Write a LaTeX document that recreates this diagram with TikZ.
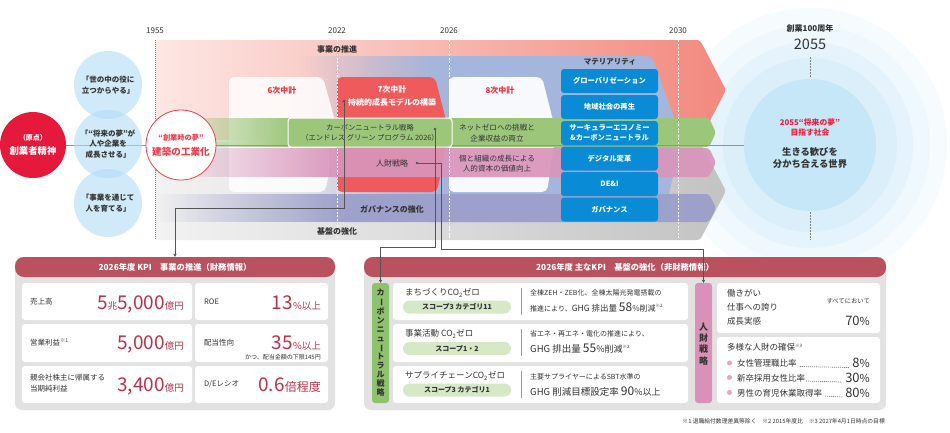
\documentclass[tikz,border=0pt]{standalone}
\usepackage{fontspec}
\setmainfont{Noto Sans CJK JP}
\usetikzlibrary{fadings,arrows.meta}
\definecolor{txt}{HTML}{333333}
\definecolor{redL}{HTML}{FDE7E4}
\definecolor{redM}{HTML}{F59E93}
\definecolor{redR}{HTML}{F2897E}
\definecolor{grayL}{HTML}{F2F2F2}
\definecolor{grayR}{HTML}{C3C3C3}
\definecolor{bluep}{HTML}{A5B6DC}
\definecolor{plan7}{HTML}{EF5A5C}
\definecolor{greenb}{HTML}{9CC77B}
\definecolor{pinkb}{HTML}{D995BB}
\definecolor{purpb}{HTML}{9C9FCB}
\definecolor{matb}{HTML}{0A8BD6}
\definecolor{origred}{HTML}{E5193C}
\definecolor{circb}{HTML}{B1DCF7}
\definecolor{dreamred}{HTML}{E8404F}
\definecolor{planred}{HTML}{E83340}
\definecolor{ring1}{HTML}{DAEFFA}
\definecolor{ring2}{HTML}{E5F4FC}
\definecolor{ring3}{HTML}{EEF8FD}
\definecolor{ring4}{HTML}{F6FBFE}
\definecolor{goalc}{HTML}{C6E7F8}
\definecolor{goalred}{HTML}{E8213F}
\definecolor{conngray}{HTML}{555555}
\definecolor{hdr}{HTML}{B9515E}
\definecolor{panel}{HTML}{E2E2E2}
\definecolor{valred}{HTML}{B5344A}
\definecolor{greenL}{HTML}{8FC26C}
\definecolor{pinkL}{HTML}{D991B8}
\definecolor{pillc}{HTML}{D6E8C6}
\definecolor{divg}{HTML}{999999}
\definecolor{bulletc}{HTML}{E3A5C6}
\definecolor{redline}{HTML}{E36F80}
\newcommand\fsz[2]{\fontsize{#1pt}{#2pt}\selectfont}
\newcommand\vbar{\rotatebox[origin=c]{-90}{ー}}
\newcommand\bgd[1]{{\fsz{19}{20}#1}}
\newcommand\smd[1]{{\fsz{9.5}{10}#1}}
\tikzfading[name=fadein, left color=transparent!100, right color=transparent!0]
\begin{document}
\begin{tikzpicture}[x=1pt,y=-1pt,
  every node/.style={inner sep=0pt, text=txt},
  jt/.style={font=\fsz{8}{10}},
  jtb/.style={font=\bfseries\fsz{8}{10}},
  circtxt/.style={align=center, font=\bfseries\fsz{7.5}{10.4}},
  matbox/.style={fill=matb, rounded corners=3, minimum width=97, minimum height=24, text=white, align=center, font=\bfseries\fsz{7.3}{9.8}},
  connector/.style={draw=conngray, line width=0.6, -{Triangle[length=3pt,width=3.2pt]}},
  cellbox/.style={fill=white, rounded corners=3},
  valnode/.style={text=valred, anchor=base east},
  hdrbox/.style={fill=hdr, rounded corners=9, minimum height=20, text=white, font=\bfseries\fsz{8.3}{10}},
  pillbox/.style={fill=pillc, rounded corners=6.5, minimum width=108, minimum height=13, font=\bfseries\fsz{7}{8}},
  vlab/.style={rounded corners=3, minimum width=17, minimum height=120},
  leader/.style={draw=txt, line width=.7, dash pattern=on .7pt off 1.3pt},
  timeline/.style={draw=white, line width=.7, dash pattern=on 2pt off 1.5pt}
]
\useasboundingbox (0,0) rectangle (950,432);
\fill[white] (0,0) rectangle (950,432);

% ---- goal rings
\fill[ring4] (810,145) circle (137);
\fill[ring3] (810,145) circle (120);
\fill[ring2] (810,145) circle (103);
\fill[ring1] (810,145) circle (87);
\node[circle, fill=goalc, minimum size=132] (goal) at (810,145) {};

% ---- big bands
\shade[left color=redL, middle color=redM, right color=redR, rounded corners=3]
  (155,40) -- (700,40) -- (726,90) -- (700,140) -- (155,140) -- cycle;
\shade[left color=grayL, right color=grayR, rounded corners=3]
  (155,142) -- (700,142) -- (726,191) -- (700,240) -- (155,240) -- cycle;

% ---- blue region
\fill[bluep, path fading=fadein] (300,56) rectangle (431,222);
\fill[bluep] (430,56) [rounded corners=5] -- (652,56) -- (682,140) -- (662,222) [sharp corners] -- (430,222) -- cycle;

% ---- plan boxes
\fill[white, opacity=.85, rounded corners=5] (229,77) -- (323,77) -- (338,132) -- (325,192) -- (229,192) -- cycle;
\fill[plan7, rounded corners=5] (337,77) -- (435,77) -- (449,132) -- (437,192) -- (337,192) -- cycle;
\fill[white, opacity=.92, rounded corners=5] (449,77) -- (542,77) -- (556,132) -- (547,192) -- (449,192) -- cycle;

% ---- strategy bands
\fill[greenb, path fading=fadein] (155,118) rectangle (292,147);
\fill[greenb] (291,118) [rounded corners=3] -- (709,118) -- (716,132.5) -- (709,147) [sharp corners] -- (291,147) -- cycle;
\fill[pinkb, opacity=.92, path fading=fadein] (155,148) rectangle (331,177);
\fill[pinkb, opacity=.92] (330,148) [rounded corners=3] -- (709,148) -- (716,162.5) -- (709,177) [sharp corners] -- (330,177) -- cycle;
\fill[purpb, opacity=.95, path fading=fadein] (155,194) rectangle (346,222);
\fill[purpb, opacity=.95] (345,194) [rounded corners=3] -- (709,194) -- (716,208) -- (709,222) [sharp corners] -- (345,222) -- cycle;

% ---- timelines
\draw[timeline] (337,40) -- (337,240);
\draw[timeline] (449,40) -- (449,240);
\draw[timeline] (678,40) -- (678,240);
\draw[gray, line width=.6, dash pattern=on 1pt off 1pt] (155,40) -- (155,240);
\node[font=\fsz{8}{10}] (y1955) at (155,31) {1955};
\node[font=\fsz{8}{10}] (y2022) at (337,31) {2022};
\node[font=\fsz{8}{10}] (y2026) at (449,31) {2026};
\node[font=\fsz{8}{10}] (y2030) at (678,31) {2030};

% ---- origin and axis line
\node[circle, fill=origred, minimum size=66, align=center, text=white] (origin) at (33,145)
  {{\bfseries\fsz{7}{9}（原点）}\\[2pt]{\bfseries\fsz{9.4}{11}創業者精神}};
\draw[redline, line width=1] (origin) -- (goal);

% ---- left circles
\node[circle, fill=circb, fill opacity=.6, text opacity=1, minimum size=68, circtxt] (c1) at (108,85) {「世の中の役に\\立つからやる」};
\node[circle, fill=circb, fill opacity=.6, text opacity=1, minimum size=68, circtxt] (c2) at (108,144) {「“将来の夢”が\\人や企業を\\成長させる」};
\node[circle, fill=circb, fill opacity=.6, text opacity=1, minimum size=68, circtxt] (c3) at (108,203) {「事業を通じて\\人を育てる」};
\node[circle, fill=white, draw=dreamred, line width=.8, minimum size=70, align=center, text=dreamred] (dream) at (181,145)
  {{\bfseries\fsz{7.2}{9}“創業時の夢”}\\[3pt]{\bfseries\fsz{9.6}{11}建築の工業化}};

% ---- band texts
\node[jtb] (biz) at (337,49) {事業の推進};
\node[jtb] (gov) at (392,209) {ガバナンスの強化};
\node[jtb] (base) at (337,231) {基盤の強化};
\node[jtb, text=planred] (p6) at (282,90) {6次中計};
\node[jtb, text=white, align=center, font=\bfseries\fsz{8}{12.5}] (p7) at (392,96) {7次中計\\持続的成長モデルの構築};
\node[jtb, text=planred] (p8) at (500,90) {8次中計};
\node[fill=greenb, draw=white, line width=1, rounded corners=3, minimum width=164, minimum height=29, align=center, font=\fsz{7.3}{10}] (cnbox) at (370,132.5)
  {カーボンニュートラル戦略\\（エンドレス グリーン プログラム 2026）};
\node[align=center, font=\fsz{7.6}{10.5}] (netz) at (497,133) {ネットゼロへの挑戦と\\企業収益の両立};
\node[align=center, font=\fsz{7.6}{10.5}] (hc) at (497,163.5) {個と組織の成長による\\人的資本の価値向上};
\node[jt] (hr) at (392,163) {人財戦略};

% ---- materiality
\node[jtb, font=\bfseries\fsz{7.5}{9}] (mat) at (610,62) {マテリアリティ};
\node[matbox] (m1) at (609.5,81) {グローバリゼーション};
\node[matbox] (m2) at (609.5,107) {地域社会の再生};
\node[matbox] (m3) at (609.5,133) {サーキュラーエコノミー\\\&カーボンニュートラル};
\node[matbox] (m4) at (609.5,158.5) {デジタル変革};
\node[matbox] (m5) at (609.5,184) {DE\&I};
\node[matbox] (m6) at (609.5,209.5) {ガバナンス};

% ---- goal texts
\node[font=\bfseries\fsz{8}{10}] (anniv) at (810,28) {創業100周年};
\node[font=\fsz{14.5}{16}] (y2055) at (810,44) {2055};
\draw[gray, line width=.6, dash pattern=on 1.5pt off 1.5pt] (810,57) -- (810,78);
\draw[gray, line width=.6, dash pattern=on 1.5pt off 1.5pt] (810,212) -- (810,240);
\node[align=center, text=goalred, font=\bfseries\fsz{7.8}{9.8}] (gdream) at (810,127.5) {2055“将来の夢”\\目指す社会};
\node[align=center, font=\bfseries\fsz{9.3}{12}] (gworld) at (810,157.5) {生きる歓びを\\分かち合える世界};

% ---- left KPI panel
\fill[panel, rounded corners=7] (15,257) rectangle (335,410);
\node[hdrbox, minimum width=320] (kpiL) at (175,267) {2026年度 KPI　事業の推進（財務情報）};
\fill[cellbox] (22,283) rectangle (192,320);
\fill[cellbox] (195,283) rectangle (328,320);
\fill[cellbox] (22,324) rectangle (192,362);
\fill[cellbox] (195,324) rectangle (328,362);
\fill[cellbox] (22,366) rectangle (192,403);
\fill[cellbox] (195,366) rectangle (328,403);
\node[anchor=west, font=\fsz{7.5}{9}] (l1) at (30,302) {売上高};
\node[anchor=west, font=\fsz{7.5}{9}] (l2) at (30,342) {営業利益\textsuperscript{※1}};
\node[anchor=west, align=left, font=\fsz{7.5}{11}] (l3) at (30,383.5) {親会社株主に帰属する\\当期純利益};
\node[anchor=west, font=\fsz{7.5}{9}] (r1) at (204,302) {ROE};
\node[anchor=west, font=\fsz{7.5}{9}] (r2) at (204,343) {配当性向};
\node[anchor=west, font=\fsz{7.5}{9}] (r3) at (204,384) {D/Eレシオ};
\node[valnode] (v1) at (184,309.5) {\bgd{5}\smd{兆}\bgd{5,000}\smd{億円}};
\node[valnode] (v2) at (184,349.5) {\bgd{5,000}\smd{億円}};
\node[valnode] (v3) at (184,391) {\bgd{3,400}\smd{億円}};
\node[valnode] (v4) at (321,309.5) {\bgd{13}\smd{\%以上}};
\node[valnode] (v5) at (321,349.5) {\bgd{35}\smd{\%以上}};
\node[valnode] (v6) at (321,391) {\bgd{0.6}{\fsz{12}{13}倍程度}};
\node[anchor=east, font=\fsz{6}{7}] (note) at (321,357) {かつ、配当金額の下限145円};

% ---- right KPI panel
\fill[panel, rounded corners=7] (364,257) rectangle (886,410);
\node[hdrbox, minimum width=522] (kpiR) at (625,267) {2026年度 主なKPI　基盤の強化（非財務情報）};
\node[vlab, fill=greenL] (cnv) at (380.5,343) {};
\node[align=center, font=\bfseries\fsz{8}{9.1}] (cnvt) at (380.5,343) {カ\\\vbar\\ボ\\ン\\ニ\\ュ\\\vbar\\ト\\ラ\\ル\\戦\\略};
\node[vlab, fill=pinkL] (hrv) at (703.5,343) {};
\node[align=center, font=\bfseries\fsz{9}{11.3}] (hrvt) at (703.5,344) {人\\財\\戦\\略};
\fill[cellbox] (393,283) rectangle (688,320);
\fill[cellbox] (393,324) rectangle (688,362);
\fill[cellbox] (393,366) rectangle (688,403);
% row 1
\node[anchor=west, font=\fsz{8.5}{10}] (t1) at (405,293) {まちづくりCO\textsubscript{2}ゼロ};
\node[pillbox] (s1) at (457,307) {スコープ3 カテゴリ11};
\draw[divg, line width=.8] (521,288) -- (521,315);
\node[anchor=west, font=\fsz{7}{8}] (a1) at (530,293) {全棟ZEH・ZEB化、全棟太陽光発電搭載の};
\node[anchor=base west] (b1) at (530,311) {{\fsz{7}{8}推進により、}{\fsz{8.5}{9}GHG 排出量 }{\fsz{12}{13}58}{\fsz{8}{9}\%削減}\textsuperscript{\fsz{4.5}{5}※2}};
% row 2
\node[anchor=west, font=\fsz{8.5}{10}] (t2) at (405,334) {事業活動 CO\textsubscript{2}ゼロ};
\node[pillbox] (s2) at (457,348.5) {スコープ1・2};
\draw[divg, line width=.8] (521,329) -- (521,356);
\node[anchor=west, font=\fsz{7}{8}] (a2) at (530,334) {省エネ・再エネ・電化の推進により、};
\node[anchor=base west] (b2) at (530,352.5) {{\fsz{9.5}{10}GHG 排出量 }{\fsz{12}{13}55}{\fsz{9}{10}\%削減}\textsuperscript{\fsz{4.5}{5}※2}};
% row 3
\node[anchor=west, font=\fsz{8.5}{10}] (t3) at (405,376) {サプライチェーンCO\textsubscript{2}ゼロ};
\node[pillbox] (s3) at (457,390) {スコープ3 カテゴリ1};
\draw[divg, line width=.8] (521,371) -- (521,398);
\node[anchor=west, font=\fsz{7}{8}] (a3) at (530,377) {主要サプライヤーによるSBT水準の};
\node[anchor=base west] (b3) at (530,395) {{\fsz{9.5}{10}GHG 削減目標設定率 }{\fsz{12}{13}90}{\fsz{9}{10}\%以上}};
% HR boxes
\fill[cellbox] (717,283) rectangle (880,333);
\fill[cellbox] (717,337) rectangle (880,403);
\node[anchor=west, align=left, font=\fsz{8.5}{14}] (hw) at (727,307) {働きがい\\仕事への誇り\\成長実感};
\node[anchor=east, font=\fsz{6.3}{7}] (all) at (870,301) {すべてにおいて};
\node[anchor=base east] (p70) at (870,325) {{\fsz{13}{14}70}{\fsz{11}{12}\%}};
\node[anchor=west, font=\fsz{8.5}{10}] (div) at (727,347) {多様な人財の確保\textsuperscript{\fsz{4.5}{5}※3}};
\fill[bulletc] (729.5,363) circle (2.5);
\fill[bulletc] (729.5,377.5) circle (2.5);
\fill[bulletc] (729.5,392.5) circle (2.5);
\node[anchor=base west, font=\fsz{8.5}{10}] (e1) at (737,366.5) {女性管理職比率};
\node[anchor=base west, font=\fsz{8.5}{10}] (e2) at (737,381) {新卒採用女性比率};
\node[anchor=base west, font=\fsz{8.5}{10}] (e3) at (737,396) {男性の育児休業取得率};
\node[anchor=base east] (f1) at (870,367.5) {{\fsz{13}{14}8}{\fsz{11}{12}\%}};
\node[anchor=base east] (f2) at (870,382) {{\fsz{13}{14}30}{\fsz{11}{12}\%}};
\node[anchor=base east] (f3) at (870,397) {{\fsz{13}{14}80}{\fsz{11}{12}\%}};
\draw[leader] ([xshift=3]e1.base east) -- ([xshift=-3]f1.base west);
\draw[leader] ([xshift=1]e2.base east) -- ([xshift=-3]f2.base west);
\draw[leader] ([xshift=3]e3.base east) -- ([xshift=-3]f3.base west);
\node[anchor=east, font=\fsz{5.8}{7}] (foot) at (885,421) {※1 退職給付数理差異等除く　※2 2015年度比　※3 2027年4月1日時点の目標};

% ---- connectors
\coordinate (d7) at (344,101);
\coordinate (k7) at (344,208);
\coordinate (dG) at (435,129);
\coordinate (kG) at (380.5,247);
\coordinate (dH) at (417,163);
\coordinate (kH1) at (441,249);
\coordinate (kH2) at (703.5,249);
\fill[conngray] (d7) circle (1.4);
\fill[conngray] (dG) circle (1.4);
\fill[conngray] (dH) circle (1.4);
\draw[connector] (d7) -- (k7) -| (kpiL.north);
\draw[connector] (dG) |- (kG) -- (cnv.north);
\draw[connector] (dH) -| (kH1) -- (kH2) -- (hrv.north);
\end{tikzpicture}
\end{document}
